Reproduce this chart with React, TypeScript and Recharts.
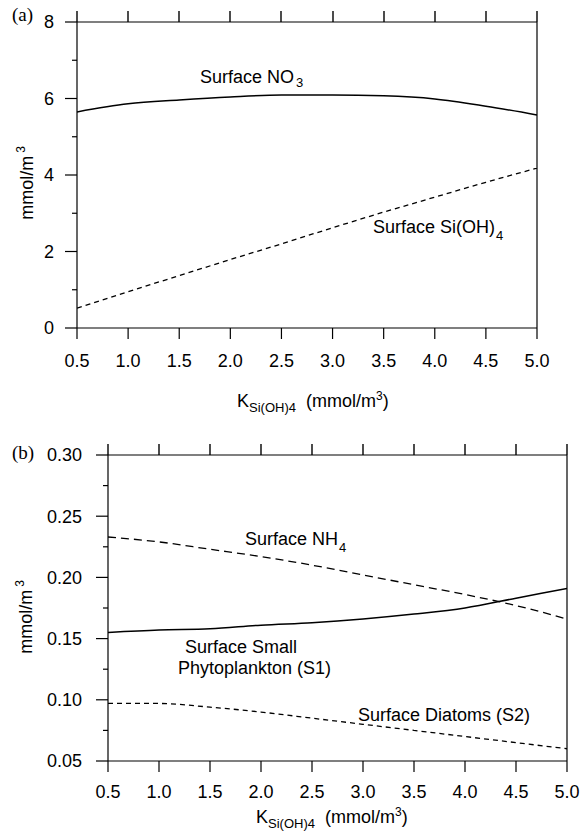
import React from "react"
import { LineChart, Line, XAxis, YAxis, ReferenceLine } from "recharts"

// half-saturation constant for silicate uptake (x axis of both panels)
const kSi = [0.5, 1.0, 1.5, 2.0, 2.5, 3.0, 3.5, 4.0, 4.5, 5.0]

// panel (a)
const surfaceNO3 = [5.65, 5.86, 5.96, 6.04, 6.09, 6.09, 6.07, 5.99, 5.8, 5.57]
const surfaceSiOH4 = [0.52, 0.95, 1.37, 1.79, 2.2, 2.62, 3.03, 3.42, 3.81, 4.18]

// panel (b)
const surfaceNH4 = [0.233, 0.229, 0.223, 0.217, 0.21, 0.202, 0.194, 0.186, 0.177, 0.166]
const smallPhyto = [0.155, 0.157, 0.158, 0.161, 0.163, 0.166, 0.17, 0.175, 0.183, 0.191]
const diatoms = [0.097, 0.097, 0.094, 0.09, 0.085, 0.08, 0.075, 0.07, 0.065, 0.06]

const xTicks = [0.5, 1.0, 1.5, 2.0, 2.5, 3.0, 3.5, 4.0, 4.5, 5.0]
const yTicksA = [0, 1, 2, 3, 4, 5, 6, 7, 8]
const yMajorA = [0, 2, 4, 6, 8]
const yTicksB = [0.05, 0.075, 0.1, 0.125, 0.15, 0.175, 0.2, 0.225, 0.25, 0.275, 0.3]
const yMajorB = [0.05, 0.1, 0.15, 0.2, 0.25, 0.3]

const dataA = kSi.map((k, i) => ({ k, no3: surfaceNO3[i], si: surfaceSiOH4[i] }))
const dataB = kSi.map((k, i) => ({ k, nh4: surfaceNH4[i], s1: smallPhyto[i], s2: diatoms[i] }))

const SANS = "'Liberation Sans', Arial, Helvetica, sans-serif"
const SERIF = "'Liberation Serif', 'Times New Roman', serif"

const TICK = 11

// plot boxes of the two panels (page pixels), used for the top-border ticks
const boxA = { left: 77, right: 537, top: 22 }
const boxB = { left: 108, right: 567, top: 455 }

function makeYTick(majors: number[], digits: number, gap: number) {
  return (props: any) => {
    const { x, y, payload } = props
    const v = payload.value
    const major = majors.some((m) => Math.abs(m - v) < 1e-6)
    return (
      <g>
        <line x1={x - (major ? 12 : 5)} x2={x} y1={y} y2={y} stroke="#000" strokeWidth={1.2} />
        {major && (
          <text x={x - gap} y={y} dy="0.36em" textAnchor="end" fontSize={18} fontFamily={SANS} fill="#000">
            {v.toFixed(digits)}
          </text>
        )}
      </g>
    )
  }
}

function makeXTick(offset: number) {
  return (props: any) => {
    const { x, y, payload } = props
    return (
      <g>
        <line x1={x} x2={x} y1={y} y2={y + TICK} stroke="#000" strokeWidth={1.2} />
        <text x={x} y={y + offset} textAnchor="middle" fontSize={18} fontFamily={SANS} fill="#000">
          {payload.value.toFixed(1)}
        </text>
      </g>
    )
  }
}

function frame(yMax: number) {
  return [
    <ReferenceLine key="top" y={yMax} stroke="#000" strokeWidth={1.2} ifOverflow="visible" />,
    <ReferenceLine key="right" x={5} stroke="#000" strokeWidth={1.2} ifOverflow="visible" />,
  ]
}

const axisStroke = { stroke: "#000", strokeWidth: 1.2 }

function PanelA() {
  return (
    <LineChart width={580} height={420} data={dataA} margin={{ top: 22, right: 43, bottom: 52, left: 17 }}>
      <XAxis
        dataKey="k"
        type="number"
        domain={[0.5, 5]}
        ticks={xTicks}
        interval={0}
        height={40}
        tickSize={0}
        tickMargin={0}
        axisLine={axisStroke}
        tickLine={false}
        tick={makeXTick(39)}
        allowDataOverflow
      />
      <YAxis
        type="number"
        domain={[0, 8]}
        ticks={yTicksA}
        interval={0}
        width={60}
        tickSize={0}
        tickMargin={0}
        axisLine={axisStroke}
        tickLine={false}
        tick={makeYTick(yMajorA, 0, 23)}
        allowDataOverflow
      />
      {frame(8)}
      <Line type="monotone" dataKey="no3" stroke="#000" strokeWidth={1.5} dot={false} isAnimationActive={false} />
      <Line
        type="monotone"
        dataKey="si"
        stroke="#000"
        strokeWidth={1.3}
        strokeDasharray="5 4"
        dot={false}
        isAnimationActive={false}
      />
    </LineChart>
  )
}

function PanelB() {
  return (
    <LineChart width={580} height={405} data={dataB} margin={{ top: 25, right: 13, bottom: 34, left: 48 }}>
      <XAxis
        dataKey="k"
        type="number"
        domain={[0.5, 5]}
        ticks={xTicks}
        interval={0}
        height={40}
        tickSize={0}
        tickMargin={0}
        axisLine={axisStroke}
        tickLine={false}
        tick={makeXTick(37)}
        allowDataOverflow
      />
      <YAxis
        type="number"
        domain={[0.05, 0.3]}
        ticks={yTicksB}
        interval={0}
        width={60}
        tickSize={0}
        tickMargin={0}
        axisLine={axisStroke}
        tickLine={false}
        tick={makeYTick(yMajorB, 2, 26)}
        allowDataOverflow
      />
      {frame(0.3)}
      <Line
        type="monotone"
        dataKey="nh4"
        stroke="#000"
        strokeWidth={1.3}
        strokeDasharray="8 5"
        dot={false}
        isAnimationActive={false}
      />
      <Line type="monotone" dataKey="s1" stroke="#000" strokeWidth={1.5} dot={false} isAnimationActive={false} />
      <Line
        type="monotone"
        dataKey="s2"
        stroke="#000"
        strokeWidth={1.3}
        strokeDasharray="5 4"
        dot={false}
        isAnimationActive={false}
      />
    </LineChart>
  )
}

// outward tick marks along the top border of a panel
function TopTicks({ box }: { box: { left: number; right: number; top: number } }) {
  const x0 = xTicks[0]
  const x1 = xTicks[xTicks.length - 1]
  return (
    <g>
      {xTicks.map((k) => {
        const px = Math.round(box.left + ((k - x0) / (x1 - x0)) * (box.right - box.left))
        return (
          <line
            key={k}
            x1={px}
            x2={px}
            y1={box.top}
            y2={box.top - TICK}
            stroke="#000"
            strokeWidth={1.4}
          />
        )
      })}
    </g>
  )
}

function XLabel({ x, y }: { x: number; y: number }) {
  return (
    <text x={x} y={y} fontSize={18} fontFamily={SANS} fill="#000">
      K
      <tspan fontSize={13} dy={5}>Si(OH)4</tspan>
      <tspan dx={10} dy={-5}>(mmol/m</tspan>
      <tspan fontSize={12} dy={-7}>3</tspan>
      <tspan dy={7}>)</tspan>
    </text>
  )
}

function YLabel({ x, y }: { x: number; y: number }) {
  return (
    <text transform={`translate(${x},${y}) rotate(-90)`} textAnchor="middle" fontSize={18} fontFamily={SANS} fill="#000">
      mmol/m
      <tspan fontSize={12} dx={3} dy={-8}>3</tspan>
    </text>
  )
}

function Annotations() {
  return (
    <svg width={580} height={835} style={{ position: "absolute", left: 0, top: 0, pointerEvents: "none" }}>
      <TopTicks box={boxA} />
      <TopTicks box={boxB} />

      <text x={12} y={21} fontSize={19} fontFamily={SERIF} fill="#000">(a)</text>
      <text x={12} y={459} fontSize={19} fontFamily={SERIF} fill="#000">(b)</text>

      <YLabel x={33} y={183} />
      <YLabel x={32} y={617} />
      <XLabel x={237} y={407} />
      <XLabel x={256} y={823} />

      <g fontSize={18} fontFamily={SANS} fill="#000">
        <text x={200} y={83}>
          Surface NO<tspan fontSize={13} dx={2} dy={4}>3</tspan>
        </text>
        <text x={373} y={233}>
          Surface Si(OH)<tspan fontSize={13} dx={1} dy={7}>4</tspan>
        </text>
        <text x={245} y={545}>
          Surface NH<tspan fontSize={13} dx={1} dy={7}>4</tspan>
        </text>
        <text x={185} y={653}>Surface Small</text>
        <text x={178} y={674}>Phytoplankton (S1)</text>
        <text x={358} y={721}>Surface Diatoms (S2)</text>
      </g>
    </svg>
  )
}

export default function App() {
  return (
    <div style={{ position: "absolute", left: 0, top: 0, width: 580, height: 835, background: "#fff" }}>
      <div style={{ position: "absolute", left: 0, top: 0 }}>
        <PanelA />
      </div>
      <div style={{ position: "absolute", left: 0, top: 430 }}>
        <PanelB />
      </div>
      <Annotations />
    </div>
  )
}
